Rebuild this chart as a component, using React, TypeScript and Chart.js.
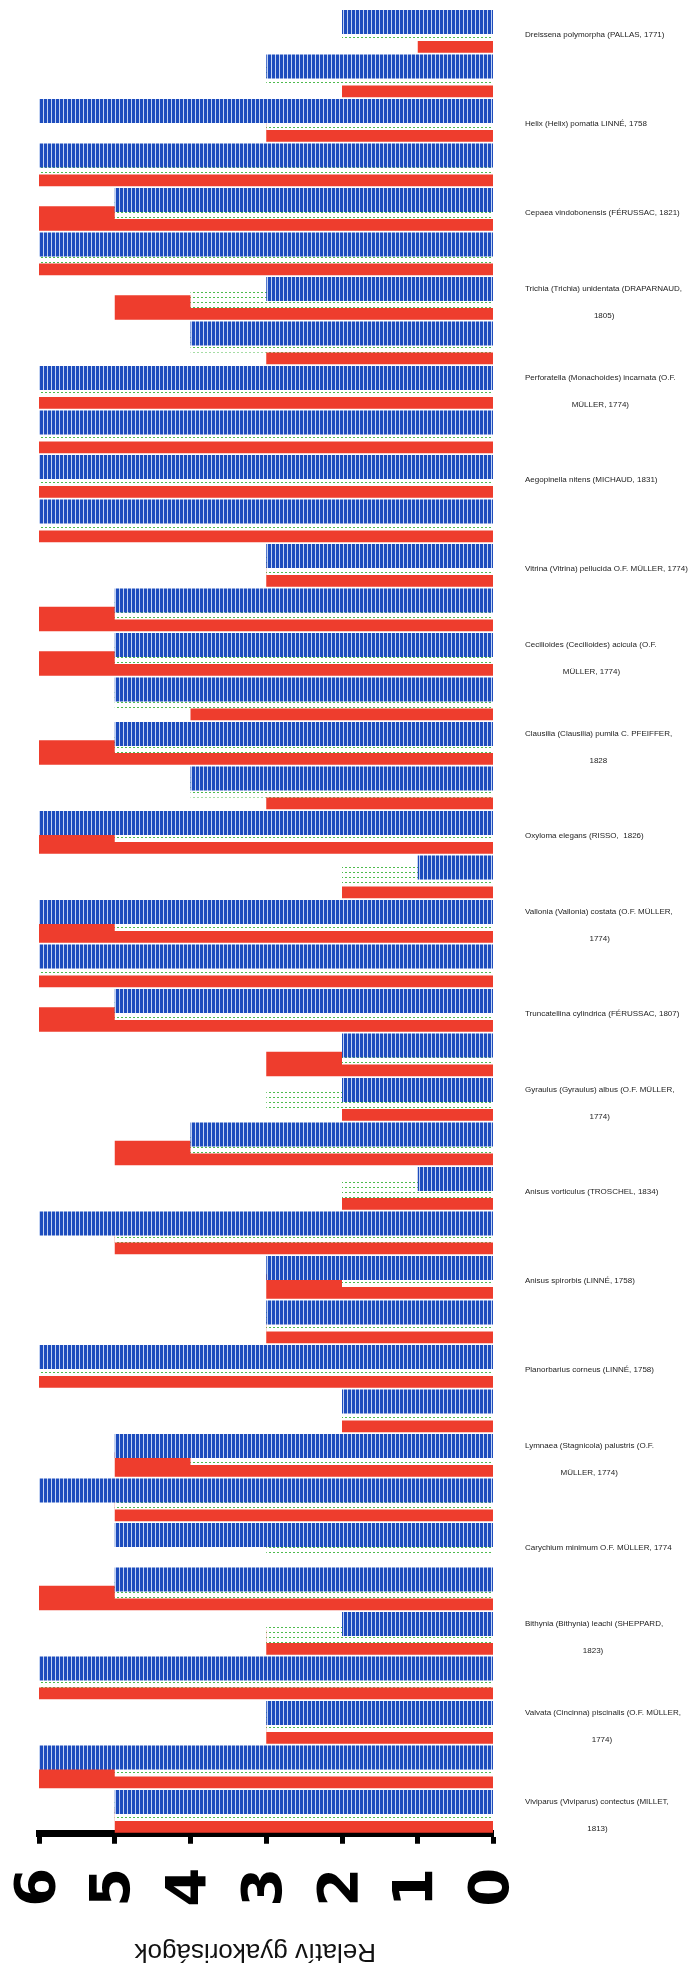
import { useEffect, useRef } from "react";
import { Chart, registerables } from "chart.js";

Chart.register(...registerables);

// One row per sample; only every other row carries a species name.
const rowLabels: (string | string[])[] = [
  "Dreissena polymorpha (PALLAS, 1771)",
  "",
  "Helix (Helix) pomatia LINNÉ, 1758",
  "",
  "Cepaea vindobonensis (FÉRUSSAC, 1821)",
  "",
  ["Trichia (Trichia) unidentata (DRAPARNAUD,", "1805)"],
  "",
  ["Perforatella (Monachoides) incarnata (O.F.", "MÜLLER, 1774)"],
  "",
  "Aegopinella nitens (MICHAUD, 1831)",
  "",
  "Vitrina (Vitrina) pellucida O.F. MÜLLER, 1774)",
  "",
  ["Cecilioides (Cecilioides) acicula (O.F.", "MÜLLER, 1774)"],
  "",
  ["Clausilia (Clausilia) pumila C. PFEIFFER,", "1828"],
  "",
  "Oxyloma elegans (RISSO,  1826)",
  "",
  ["Vallonia (Vallonia) costata (O.F. MÜLLER,", "1774)"],
  "",
  "Truncatellina cylindrica (FÉRUSSAC, 1807)",
  "",
  ["Gyraulus (Gyraulus) albus (O.F. MÜLLER,", "1774)"],
  "",
  "Anisus vorticulus (TROSCHEL, 1834)",
  "",
  "Anisus spirorbis (LINNÉ, 1758)",
  "",
  "Planorbarius corneus (LINNÉ, 1758)",
  "",
  ["Lymnaea (Stagnicola) palustris (O.F.", "MÜLLER, 1774)"],
  "",
  "Carychium minimum O.F. MÜLLER, 1774",
  "",
  ["Bithynia (Bithynia) leachi (SHEPPARD,", "1823)"],
  "",
  ["Valvata (Cincinna) piscinalis (O.F. MÜLLER,", "1774)"],
  "",
  ["Viviparus (Viviparus) contectus (MILLET,", "1813)"],
];

const blueValues = [
  2, 3, 6, 6, 5, 6, 3, 4, 6, 6, 6, 6, 3, 5, 5, 5, 5, 4, 6, 1, 6,
  6, 5, 2, 2, 4, 1, 6, 3, 3, 6, 2, 5, 6, 5, 5, 2, 6, 3, 6, 5,
];
const greenValues = [
  2, 3, 3, 6, 5, 6, 4, 4, 6, 6, 6, 6, 3, 5, 5, 5, 5, 4, 5, 2, 5,
  6, 5, 2, 3, 4, 2, 5, 2, 3, 6, 2, 4, 5, 3, 5, 3, 6, 3, 5, 5,
];
const redValues = [
  1, 2, 3, 6, 6, 6, 5, 3, 6, 6, 6, 6, 3, 6, 6, 4, 6, 3, 6, 2, 6,
  6, 6, 3, 2, 5, 2, 5, 3, 3, 6, 2, 5, 5, 0, 6, 3, 6, 3, 6, 5,
];

const valueTicks = [0, 1, 2, 3, 4, 5, 6];
const axisTitle = "Relatív gyakoriságok";

const labelFamily = '"Liberation Sans", Arial, sans-serif';
const labelSize = 8;

function stripePattern(): CanvasPattern {
  const c = document.createElement("canvas");
  c.width = 4;
  c.height = 4;
  const g = c.getContext("2d")!;
  g.fillStyle = "#c3d3f3";
  g.fillRect(0, 0, 4, 4);
  g.fillStyle = "#1d4cbd";
  g.fillRect(0, 0, 3, 4);
  return g.createPattern(c, "repeat")!;
}

function dotPattern(): CanvasPattern {
  const c = document.createElement("canvas");
  c.width = 4;
  c.height = 5;
  const g = c.getContext("2d")!;
  g.fillStyle = "#ffffff";
  g.fillRect(0, 0, 4, 5);
  g.fillStyle = "#4dbb4d";
  g.fillRect(1, 2, 2, 1);
  return g.createPattern(c, "repeat")!;
}

// Second lines of wrapped names sit centred under the first line.
function centreSecondLines(labels: (string | string[])[]): (string | string[])[] {
  const g = document.createElement("canvas").getContext("2d")!;
  g.font = `${labelSize}px ${labelFamily}`;
  const space = g.measureText(" ").width;
  return labels.map((l) => {
    if (!Array.isArray(l)) return l;
    const [first, second] = l;
    const gap = (g.measureText(first).width - g.measureText(second).width) / 2;
    const n = Math.max(0, Math.round(gap / space));
    return [first, " ".repeat(n) + second];
  });
}

const flippedTitle = {
  id: "flippedTitle",
  afterDraw(chart: any) {
    const { ctx, chartArea } = chart;
    const xScale = chart.scales.x;
    ctx.save();
    ctx.translate((chartArea.left + chartArea.right) / 2 - 11, xScale.bottom - 23);
    ctx.rotate(Math.PI);
    ctx.font = `26px ${labelFamily}`;
    ctx.fillStyle = "#111";
    ctx.textAlign = "center";
    ctx.textBaseline = "middle";
    ctx.fillText(axisTitle, 0, 0);
    ctx.restore();
  },
};

export default function App() {
  const canvasRef = useRef<HTMLCanvasElement | null>(null);

  useEffect(() => {
    document.body.style.margin = "0";
    const canvas = canvasRef.current;
    if (!canvas) return;

    const chart = new Chart(canvas, {
      type: "bar",
      data: {
        labels: centreSecondLines(rowLabels),
        datasets: [
          {
            data: blueValues,
            backgroundColor: stripePattern(),
            borderWidth: 0,
            categoryPercentage: 0.607,
            barPercentage: 2.667,
          },
          {
            data: greenValues,
            backgroundColor: dotPattern(),
            borderWidth: 0,
            categoryPercentage: 0.6,
            barPercentage: 2.25,
          },
          {
            data: redValues,
            backgroundColor: "#ee3d2d",
            borderWidth: 0,
            categoryPercentage: 0.64,
            barPercentage: 2.57,
          },
        ],
      },
      options: {
        indexAxis: "y",
        animation: false,
        responsive: false,
        devicePixelRatio: 1,
        layout: { padding: { left: 39, top: 8.75, right: 0, bottom: 0 } },
        plugins: {
          legend: { display: false },
          tooltip: { enabled: false },
        },
        scales: {
          x: {
            type: "linear",
            position: "bottom",
            reverse: true,
            min: valueTicks[0],
            max: valueTicks[valueTicks.length - 1],
            afterBuildTicks: (scale: any) => {
              scale.ticks = valueTicks.map((v) => ({ value: v }));
            },
            afterFit: (scale: any) => {
              scale.height = 140.75;
              scale.paddingLeft = 0;
              scale.paddingRight = 0;
            },
            grid: {
              display: true,
              drawOnChartArea: false,
              drawTicks: true,
              tickLength: 10.5,
              tickWidth: 5,
              tickColor: "#000",
            },
            border: { display: true, width: 7, color: "#000" },
            ticks: {
              minRotation: 90,
              maxRotation: 90,
              padding: 24,
              color: "#000",
              font: { family: '"DejaVu Sans", sans-serif', weight: "bold", size: 56, lineHeight: 1 },
            },
          },
          y: {
            type: "category",
            position: "right",
            afterFit: (scale: any) => {
              scale.width = 204.5;
              scale.paddingTop = 0;
              scale.paddingBottom = 0;
            },
            grid: { display: false, drawTicks: false },
            border: { display: false },
            ticks: {
              autoSkip: false,
              crossAlign: "near",
              padding: 31.5,
              labelOffset: 4,
              color: "#1c1c1c",
              font: { family: labelFamily, size: labelSize, lineHeight: 3.35 },
            },
          },
        },
      },
      plugins: [flippedTitle],
    } as any);

    return () => chart.destroy();
  }, []);

  return (
    <div style={{ width: 698, height: 1974, background: "#fff" }}>
      <canvas ref={canvasRef} width={698} height={1974} />
    </div>
  );
}
